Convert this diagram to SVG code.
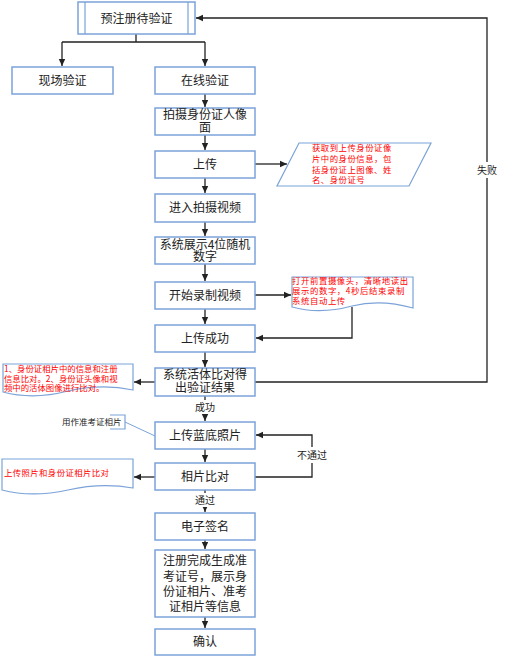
<svg xmlns="http://www.w3.org/2000/svg" width="517" height="661" viewBox="0 0 517 661">
<style>
.box{fill:#fff;stroke:#7ba3d9;stroke-width:1.5}
.ann{fill:#fff;stroke:#7ba3d9;stroke-width:1.2}
.t{font-family:"Noto Sans CJK SC","Liberation Sans",sans-serif;font-size:12px;fill:#222;text-anchor:middle}
.s{font-family:"Noto Sans CJK SC","Liberation Sans",sans-serif;font-size:10px;fill:#222;text-anchor:middle}
.r{font-family:"Noto Sans CJK SC","Liberation Sans",sans-serif;font-size:8.4px;fill:#f00}
.c{fill:none;stroke:#222;stroke-width:1.3}
</style>
<defs>
<marker id="ah" markerUnits="userSpaceOnUse" markerWidth="8" markerHeight="8" refX="7" refY="4" orient="auto">
<path d="M0,0.8 L7,4 L0,7.2 Z" fill="#222"/>
</marker>
</defs>
<g id="connectors">
<path class="c" d="M136,34 V42 M62,42 H205" />
<path class="c" d="M62,42 V66" marker-end="url(#ah)"/>
<path class="c" d="M205,42 V66" marker-end="url(#ah)"/>
<path class="c" d="M205,94 V107" marker-end="url(#ah)"/>
<path class="c" d="M205,135 V150" marker-end="url(#ah)"/>
<path class="c" d="M205,178 V193" marker-end="url(#ah)"/>
<path class="c" d="M205,222 V236" marker-end="url(#ah)"/>
<path class="c" d="M205,264 V281" marker-end="url(#ah)"/>
<path class="c" d="M205,309 V324" marker-end="url(#ah)"/>
<path class="c" d="M205,352 V367" marker-end="url(#ah)"/>
<path class="c" d="M205,396 V421" marker-end="url(#ah)"/>
<path class="c" d="M205,449 V462" marker-end="url(#ah)"/>
<path class="c" d="M205,490 V512" marker-end="url(#ah)"/>
<path class="c" d="M205,540 V549" marker-end="url(#ah)"/>
<path class="c" d="M205,617 V628" marker-end="url(#ah)"/>
<path class="c" d="M255,164 H287" marker-end="url(#ah)"/>
<path class="c" d="M255,295 H291" marker-end="url(#ah)"/>
<path class="c" d="M352,307 V338 H256" marker-end="url(#ah)"/>
<path class="c" d="M155,382 H134" marker-end="url(#ah)"/>
<path class="c" d="M255,382 H487 V18 H196" marker-end="url(#ah)"/>
<path class="c" d="M155,477 H134" marker-end="url(#ah)"/>
<path class="c" d="M255,477 H312 V435 H256" marker-end="url(#ah)"/>
<path d="M125,422 L155,436" fill="none" stroke="#7ba3d9" stroke-width="1"/>
<rect x="193" y="400" width="24" height="14" fill="#fff"/>
<text class="s" x="205" y="411">成功</text>
<rect x="193" y="493" width="24" height="14" fill="#fff"/>
<text class="s" x="205" y="504">通过</text>
<rect x="474" y="162" width="26" height="16" fill="#fff"/>
<text class="s" x="487" y="174">失败</text>
<rect x="296" y="447" width="32" height="16" fill="#fff"/>
<text class="s" x="312" y="459">不通过</text>
</g>
<g id="n-pre">
<rect class="box" x="78" y="2" width="117" height="32"/>
<path d="M85,2 V34 M188,2 V34" stroke="#7ba3d9" stroke-width="1.2"/>
<text class="t" x="136.5" y="22.5">预注册待验证</text>
</g>
<g id="n-site">
<rect class="box" x="12" y="67" width="101" height="27"/>
<text class="t" x="62.5" y="85">现场验证</text>
</g>
<g id="n-online">
<rect class="box" x="155" y="67" width="100" height="27"/>
<text class="t" x="205" y="85">在线验证</text>
</g>
<g id="n-photo">
<rect class="box" x="155" y="108" width="100" height="27"/>
<text class="t" x="205" y="119"><tspan x="205" y="119">拍摄身份证人像</tspan><tspan x="205" y="131.5">面</tspan></text>
</g>
<g id="n-upload">
<rect class="box" x="155" y="151" width="100" height="27"/>
<text class="t" x="205" y="168.5">上传</text>
</g>
<g id="n-video">
<rect class="box" x="155" y="194" width="100" height="28"/>
<text class="t" x="205" y="212">进入拍摄视频</text>
</g>
<g id="n-digits">
<rect class="box" x="155" y="237" width="100" height="27"/>
<text class="t" x="205" y="248.5"><tspan x="205" y="248.5">系统展示4位随机</tspan><tspan x="205" y="261">数字</tspan></text>
</g>
<g id="n-record">
<rect class="box" x="155" y="282" width="100" height="27"/>
<text class="t" x="205" y="299.5">开始录制视频</text>
</g>
<g id="n-uploadok">
<rect class="box" x="155" y="325" width="100" height="27"/>
<text class="t" x="205" y="342.5">上传成功</text>
</g>
<g id="n-compare">
<rect class="box" x="155" y="368" width="100" height="28"/>
<text class="t" x="205" y="379"><tspan x="205" y="379">系统活体比对得</tspan><tspan x="205" y="392">出验证结果</tspan></text>
</g>
<g id="n-blue">
<rect class="box" x="155" y="422" width="100" height="27"/>
<text class="t" x="205" y="439.5">上传蓝底照片</text>
</g>
<g id="n-photocmp">
<rect class="box" x="155" y="463" width="100" height="27"/>
<text class="t" x="205" y="480.5">相片比对</text>
</g>
<g id="n-sign">
<rect class="box" x="155" y="513" width="100" height="27"/>
<text class="t" x="205" y="530.5">电子签名</text>
</g>
<g id="n-done">
<rect class="box" x="155" y="550" width="100" height="67"/>
<text class="t" x="205" y="565"><tspan x="205" y="565">注册完成生成准</tspan><tspan x="205" y="580.5">考证号，展示身</tspan><tspan x="205" y="596">份证相片、准考</tspan><tspan x="205" y="611">证相片等信息</tspan></text>
</g>
<g id="n-confirm">
<rect class="box" x="155" y="629" width="100" height="26"/>
<text class="t" x="205" y="646">确认</text>
</g>
<g id="a-idinfo">
<path class="ann" d="M299,143 H431 L409,186 H277 Z"/>
<text class="r" letter-spacing="0.5" x="312" y="151"><tspan x="312" y="151">获取到上传身份证像</tspan><tspan x="312" y="162">片中的身份信息，包</tspan><tspan x="312" y="172.5">括身份证上图像、姓</tspan><tspan x="312" y="183">名、身份证号</tspan></text>
</g>
<g id="a-record">
<path class="ann" d="M292,277 H413 V308 C392,302 372,301 352,306 C330,312 310,312 292,307 Z"/>
<text class="r" letter-spacing="0.6" x="292" y="284"><tspan x="292" y="284">打开前置摄像头，清晰地读出</tspan><tspan x="292" y="294">展示的数字，4秒后结束录制</tspan><tspan x="292" y="304">系统自动上传</tspan></text>
</g>
<g id="a-liveness">
<path class="ann" d="M3,364 H133 V390 C110,385 90,386 68,391 C45,397 25,398 3,392 Z"/>
<text class="r" x="4" y="372"><tspan x="4" y="372">1、身份证相片中的信息和注册</tspan><tspan x="4" y="381.5">信息比对。2、身份证头像和视</tspan><tspan x="4" y="391">频中的活体图像进行比对。</tspan></text>
</g>
<g id="a-blue">
<path d="M110,415 H125 V429 H110" fill="none" stroke="#7ba3d9" stroke-width="1.2"/>
<text x="62" y="425" font-family="Noto Sans CJK SC, Liberation Sans, sans-serif" font-size="8.5" fill="#222">用作准考证相片</text>
</g>
<g id="a-photocmp">
<path class="ann" d="M2,459 H133 V488 C110,484 90,485 68,490 C45,495 25,496 2,490 Z"/>
<text class="r" letter-spacing="0.4" x="4" y="476">上传照片和身份证相片比对</text>
</g>
</svg>
